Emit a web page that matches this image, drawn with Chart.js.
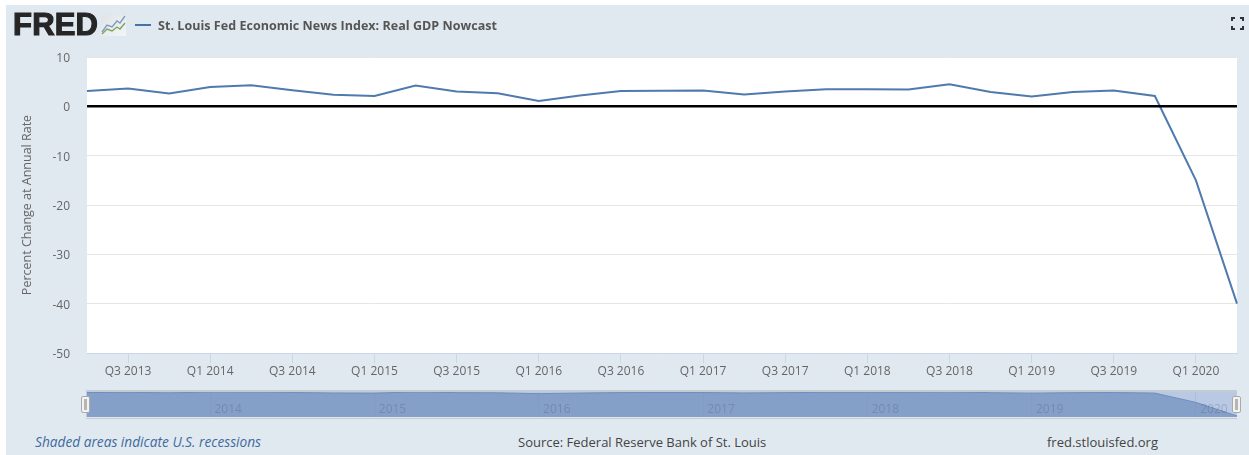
<!DOCTYPE html>
<html>
<head>
<meta charset="utf-8">
<title>St. Louis Fed Economic News Index: Real GDP Nowcast</title>
<script src="https://cdn.jsdelivr.net/npm/chart.js@4/dist/chart.umd.min.js"></script>
<style>
  html, body { margin: 0; padding: 0; background: #fff; }
  body { width: 1249px; height: 455px; position: relative; overflow: hidden; font-family: "Open Sans", sans-serif; }
  #panel { position: absolute; left: 6px; top: 5px; width: 1243px; height: 450px; background: #e1e9f0; }
  #main { position: absolute; left: 0; top: 0; }
  #navWrap { position: absolute; left: 86px; top: 391px; width: 1151px; height: 26px; background: #b9c9e3; }
  #nav { position: absolute; left: 1px; top: 0; }
  #navFrame { position: absolute; left: 86px; top: 390px; width: 1151px; height: 26px; border-top: 2px solid #c4cbd4; border-bottom: 1px solid #c4cbd4; }
  .logo { position: absolute; left: 13px; top: 8px; font: 900 31px/34px "Liberation Sans", sans-serif; letter-spacing: 0.2px; color: #262626; -webkit-text-stroke: 1.2px #262626; }
  .logoIcon { position: absolute; left: 101px; top: 15px; }
  .swatch { position: absolute; left: 135px; top: 24px; width: 16px; height: 2px; background: #4572a7; }
  .title { position: absolute; left: 158px; top: 17px; font: 700 12.5px/18px "Open Sans", sans-serif; letter-spacing: 0.04px; color: #555; white-space: nowrap; }
  .full { position: absolute; left: 1231px; top: 17px; }
  .foot { position: absolute; top: 433px; font: 13px/18px "Open Sans", sans-serif; color: #444; white-space: nowrap; }
  .handle { position: absolute; top: 396px; width: 7px; height: 15px; background: #f2f2f2; border: 1px solid #aaa; border-radius: 2px; }
  .handle::after { content: ""; position: absolute; left: 2px; top: 2px; width: 3px; height: 11px; background: #b5b5b5; }
</style>
</head>
<body>
<div id="panel"></div>
<canvas id="main" width="1249" height="391"></canvas>
<div id="navWrap"><canvas id="nav" width="1150" height="26"></canvas></div>
<div id="navFrame"></div>

<div class="logo">FRED</div>
<svg class="logoIcon" width="25" height="21" viewBox="0 0 25 21">
  <defs>
    <linearGradient id="iconBg" x1="0" y1="0" x2="1" y2="1">
      <stop offset="0" stop-color="#dfe4e8"/>
      <stop offset="1" stop-color="#f3f5f6"/>
    </linearGradient>
  </defs>
  <rect width="25" height="21" fill="url(#iconBg)"/>
  <polyline points="1,17 6,10 11,12 16,6 19,8 24,1" fill="none" stroke="#7f9cc0" stroke-width="1.4"/>
  <polyline points="1,19 6,14 11,16 16,12 19,14 24,8" fill="none" stroke="#7fa35a" stroke-width="1.4"/>
</svg>
<div class="swatch"></div>
<div class="title">St. Louis Fed Economic News Index: Real GDP Nowcast</div>
<svg class="full" width="13" height="13" viewBox="0 0 13 13" fill="none" stroke="#333" stroke-width="2">
  <path d="M1 4V1H4M9 1H12V4M12 9V12H9M4 12H1V9"/>
</svg>

<div class="handle" style="left:81px"></div>
<div class="handle" style="left:1232px"></div>

<div class="foot" style="left:35px;font-size:13.7px;font-style:italic;color:#3e6a9e">Shaded areas indicate U.S. recessions</div>
<div class="foot" style="left:518px">Source: Federal Reserve Bank of St. Louis</div>
<div class="foot" style="left:1047px">fred.stlouisfed.org</div>

<script>
const quarters = [
  'Q2 2013', 'Q3 2013', 'Q4 2013',
  'Q1 2014', 'Q2 2014', 'Q3 2014', 'Q4 2014',
  'Q1 2015', 'Q2 2015', 'Q3 2015', 'Q4 2015',
  'Q1 2016', 'Q2 2016', 'Q3 2016', 'Q4 2016',
  'Q1 2017', 'Q2 2017', 'Q3 2017', 'Q4 2017',
  'Q1 2018', 'Q2 2018', 'Q3 2018', 'Q4 2018',
  'Q1 2019', 'Q2 2019', 'Q3 2019', 'Q4 2019',
  'Q1 2020', 'Q2 2020',
];
const nowcast = [
  3.1, 3.6, 2.6,
  3.9, 4.25, 3.25, 2.35,
  2.1, 4.2, 3.0, 2.65,
  1.1, 2.2, 3.1, 3.15,
  3.2, 2.4, 3.0, 3.45,
  3.45, 3.4, 4.45, 2.9,
  2.0, 2.9, 3.2, 2.1,
  -15, -40,
];
const quarterTicks = [
  'Q3 2013', 'Q1 2014', 'Q3 2014', 'Q1 2015', 'Q3 2015', 'Q1 2016', 'Q3 2016',
  'Q1 2017', 'Q3 2017', 'Q1 2018', 'Q3 2018', 'Q1 2019', 'Q3 2019', 'Q1 2020',
];
const yearTicks = ['Q1 2014', 'Q1 2015', 'Q1 2016', 'Q1 2017', 'Q1 2018', 'Q1 2019', 'Q1 2020'];
const valueTicks = [10, 0, -10, -20, -30, -40, -50];
const zeroTick = [0];

const LINE_COLOR = '#4f7aae';

// оставляем только нужные подписи на категориальной оси
const keepTicks = (wanted) => (scale) => {
  scale.ticks = scale.ticks.filter((t) => wanted.includes(quarters[t.value]));
};

// белое поле под графиком
const plotBackground = {
  id: 'plotBackground',
  beforeDraw(chart) {
    const { ctx, chartArea: { left, top, width, height } } = chart;
    ctx.save();
    ctx.fillStyle = '#fff';
    ctx.fillRect(left, top, width, height);
    ctx.restore();
  },
};

// подписи лет должны лежать внутри поля навигатора, поднимаем ось после раскладки
const yearsInsidePlot = {
  id: 'yearsInsidePlot',
  afterLayout(chart) {
    chart.scales.x.top = 11;
    chart.scales.x.bottom = 26;
  },
};

new Chart(document.getElementById('main'), {
  type: 'line',
  data: {
    labels: quarters,
    datasets: [{
      data: nowcast,
      borderColor: LINE_COLOR,
      borderWidth: 2,
      pointRadius: 0,
      tension: 0,
    }],
  },
  options: {
    responsive: false,
    animation: false,
    layout: { padding: { left: 20, top: 57, right: 12, bottom: 0 } },
    plugins: { legend: { display: false }, tooltip: { enabled: false } },
    scales: {
      x: {
        offset: false,
        afterBuildTicks: keepTicks(quarterTicks),
        afterFit: (scale) => { scale.height = 38; },
        border: { color: '#ccd6eb', width: 1 },
        grid: { drawOnChartArea: false, tickLength: 10, tickColor: '#ccd6eb' },
        ticks: {
          autoSkip: false,
          maxRotation: 0,
          padding: 1,
          color: '#666',
          font: { family: '"Open Sans"', size: 12 },
          callback(value) { return quarters[value]; },
        },
      },
      y: {
        min: -50,
        max: 10,
        afterBuildTicks: (scale) => { scale.ticks = valueTicks.map((value) => ({ value })); },
        afterFit: (scale) => { scale.width = 67; },
        border: { display: false },
        grid: { drawTicks: false, color: '#e6e6e6', lineWidth: 1 },
        ticks: {
          padding: 17,
          labelOffset: 1.5,
          color: '#666',
          font: { family: '"Open Sans"', size: 12 },
        },
        title: {
          display: true,
          text: 'Percent Change at Annual Rate',
          color: '#666',
          padding: 0,
          font: { family: '"Open Sans"', size: 12.5 },
        },
      },
      // нулевая линия идёт поверх ряда, поэтому отдельная ось
      zero: {
        position: 'left',
        min: -50,
        max: 10,
        afterBuildTicks: (scale) => { scale.ticks = zeroTick.map((value) => ({ value })); },
        afterFit: (scale) => { scale.width = 0; },
        border: { display: false },
        grid: { z: 1, drawTicks: false, color: '#000', lineWidth: 2.5 },
        ticks: { display: false },
      },
    },
  },
  plugins: [plotBackground],
});

// полоса навигатора под основным графиком
new Chart(document.getElementById('nav'), {
  type: 'line',
  data: {
    labels: quarters,
    datasets: [{
      data: nowcast,
      borderColor: '#6d8fbe',
      borderWidth: 1,
      backgroundColor: '#85a0c8',
      fill: 'start',
      pointRadius: 0,
      tension: 0,
    }],
  },
  options: {
    responsive: false,
    animation: false,
    layout: { padding: 0 },
    plugins: { legend: { display: false }, tooltip: { enabled: false } },
    scales: {
      x: {
        offset: false,
        afterBuildTicks: keepTicks(yearTicks),
        afterFit: (scale) => { scale.height = 0; },
        border: { display: false },
        grid: { z: 1, color: 'rgba(110,130,160,0.15)', drawTicks: false },
        ticks: {
          z: 2,
          autoSkip: false,
          maxRotation: 0,
          padding: 0,
          labelOffset: 18,
          color: 'rgba(50,60,80,0.22)',
          font: { family: '"Open Sans"', size: 12 },
          callback(value) { return quarters[value].slice(3); },
        },
      },
      y: { display: false, min: -42, max: 6 },
    },
  },
  plugins: [yearsInsidePlot],
});
</script>
</body>
</html>
